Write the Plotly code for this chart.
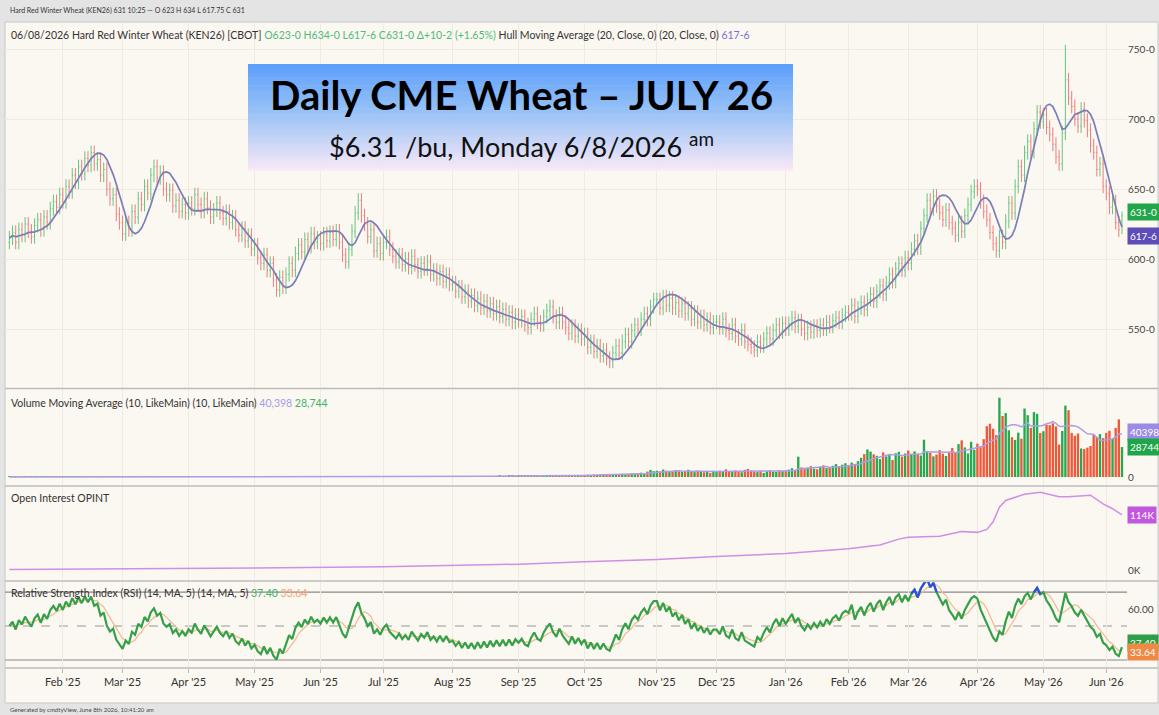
import numpy as np
import pandas as pd
import plotly.graph_objects as go
from plotly.subplots import make_subplots

# ---- data ----
holidays = ["2025-01-20", "2025-02-17", "2025-04-18", "2025-05-26", "2025-06-19", "2025-07-04",
            "2025-09-01", "2025-11-27", "2025-12-25", "2026-01-01", "2026-01-19", "2026-02-16",
            "2026-04-03", "2026-05-25"]

closes = [
    615, 619, 612, 621, 617, 625, 620, 616, 624, 628, 621, 630, 626, 636, 641, 637, 646,  # Jan 25
    641, 652, 648, 660, 655, 666, 661, 672, 667, 676, 668, 671, 660, 664, 650, 643, 646, 632, 626,  # Feb
    618, 626, 621, 634, 630, 643, 639, 652, 647, 660, 666, 658, 662, 650, 646, 649, 638, 642, 634, 639, 633,  # Mar
    640, 636, 646, 639, 634, 643, 637, 630, 635, 640, 633, 629, 634, 626, 630, 621, 617, 622, 613, 617, 607,  # Apr
    610, 601, 597, 603, 592, 597, 585, 578, 587, 580, 589, 597, 592, 604, 610, 605, 614, 609, 618, 612, 615,  # May
    611, 618, 613, 619, 614, 620, 612, 603, 598, 607, 620, 633, 642, 631, 625, 616, 621, 606, 611, 604,  # Jun
    612, 616, 607, 602, 598, 603, 596, 600, 594, 602, 596, 591, 597, 593, 598, 589, 592, 586, 591, 584, 589, 582,  # Jul
    583, 577, 580, 573, 577, 570, 574, 567, 572, 565, 570, 563, 568, 561, 566, 559, 564, 557, 562, 555, 560,  # Aug
    556, 559, 553, 551, 557, 561, 555, 553, 559, 563, 566, 559, 555, 561, 555, 551, 547, 552, 545, 549, 543,  # Sep
    546, 537, 541, 534, 538, 531, 535, 529, 527, 533, 538, 533, 541, 546, 541, 549, 553, 550, 557, 561, 557, 566, 571,  # Oct
    571, 565, 573, 567, 572, 565, 569, 563, 568, 561, 565, 557, 562, 555, 559, 553, 557, 551, 555,  # Nov
    555, 551, 557, 549, 547, 553, 545, 543, 549, 541, 539, 537, 535, 541, 538, 543, 547, 543, 549, 553, 548, 554,  # Dec
    550, 554, 558, 552, 556, 550, 547, 551, 548, 552, 549, 553, 550, 555, 552, 556, 558, 555, 560, 562,  # Jan 26
    561, 567, 559, 565, 569, 564, 571, 575, 570, 577, 581, 575, 583, 589, 584, 593, 597, 592, 601,  # Feb
    597, 607, 613, 608, 622, 631, 642, 636, 645, 638, 633, 628, 635, 626, 622, 617, 626, 620, 631, 639, 648, 652,  # Mar
    650, 641, 634, 628, 619, 611, 606, 616, 612, 627, 640, 633, 652, 666, 660, 676, 684, 677, 693, 705, 698,  # Apr
    703, 694, 689, 682, 673, 668, 690, 728, 715, 709, 700, 695, 707, 699, 692, 681, 676, 664, 668, 652,  # May
    647, 637, 641, 626, 620.75, 631,  # Jun 26
]

volume = [
    40, 60, 30, 50, 80, 40, 60, 90, 50, 70, 40, 60, 80, 50, 90, 60, 70,
    60, 80, 50, 90, 70, 100, 60, 80, 110, 70, 90, 60, 120, 80, 100, 70, 90, 110, 80,
    90, 120, 80, 140, 100, 130, 90, 150, 110, 100, 160, 120, 90, 140, 170, 110, 130, 150, 100, 180, 120,
    150, 120, 180, 140, 200, 160, 130, 190, 220, 150, 170, 210, 140, 230, 180, 160, 250, 190, 210, 170, 240,
    220, 260, 190, 280, 240, 210, 300, 260, 230, 320, 270, 250, 340, 290, 260, 310, 280, 350, 300, 270, 330,
    320, 380, 300, 410, 350, 330, 440, 390, 360, 520, 610, 480, 420, 390, 450, 400, 430, 380, 460, 420,
    450, 500, 430, 540, 480, 460, 570, 520, 490, 600, 550, 510, 620, 580, 540, 650, 600, 560, 680, 620, 590, 700,
    700, 760, 680, 820, 740, 710, 880, 790, 750, 920, 840, 800, 960, 880, 850, 1010, 930, 890, 1080, 980, 940,
    1100, 1200, 1050, 1300, 1180, 1150, 1400, 1250, 1200, 1500, 1350, 1300, 1600, 1450, 1380, 1700, 1550, 1480, 1800, 1650, 1600,
    1900, 2100, 1800, 2300, 2000, 2200, 2600, 2400, 2100, 2800, 2500, 2300, 3000, 2700, 2900, 3400, 3100, 3600, 4200, 3800, 5200, 6800, 5600,
    6000, 5400, 7200, 6100, 5200, 4800, 6500, 5600, 4900, 5800, 6900, 5300, 4700, 6200, 5500, 4600, 5100, 3800, 5900,
    5200, 6100, 4800, 7400, 5600, 5000, 6300, 5400, 4600, 6900, 7800, 6200, 5300, 4700, 6000, 3900, 5500, 6400, 5100, 4800, 6600, 5800,
    6200, 7100, 8400, 6800, 19500, 9200, 7600, 8900, 10400, 8100, 7400, 9800, 11200, 8600, 9300, 10800, 12400, 9700, 11800, 13200,
    11500, 13800, 12600, 15200, 18400, 22000, 26500, 24400, 21800, 20400, 17200, 23600, 19800, 21200, 16400, 22800, 24200, 19600, 22600,
    25400, 21800, 24600, 22400, 20600, 35800, 24800, 23200, 19800, 21600, 25800, 22400, 20200, 24200, 27800, 23400, 31600, 35200, 28400, 22600, 33800, 26200,
    32000, 28600, 36400, 48800, 51200, 46400, 40200, 76200, 58600, 61400, 44800, 38200, 35600, 42600, 36800, 65800, 59400, 47200, 62400, 60800, 42200,
    44000, 50200, 49800, 51600, 48600, 31200, 44200, 68600, 64200, 42400, 39600, 41800, 27400, 26800, 28200, 29800, 40400, 38600, 41200, 37400,
    42400, 44400, 36800, 47200, 55400, 28744,
]

oi_dates = ["2025-01-08", "2025-03-03", "2025-05-01", "2025-07-01", "2025-09-02", "2025-10-01",
            "2025-11-03", "2025-12-01", "2026-01-02", "2026-02-02", "2026-02-17", "2026-02-25",
            "2026-03-02", "2026-03-16", "2026-03-25", "2026-04-01", "2026-04-07", "2026-04-09",
            "2026-04-13", "2026-04-15", "2026-04-20", "2026-04-23", "2026-04-30", "2026-05-08",
            "2026-05-13", "2026-05-22", "2026-05-29", "2026-06-03", "2026-06-08"]
oi_values = [1, 2, 4, 7, 12, 17, 22, 28, 34, 44, 52, 64, 68, 70, 80, 78, 84, 100,
             130, 144, 150, 157, 161, 152, 152, 155, 137, 127, 114]  # thousands

first_open = 612
high_override = {"2026-05-12": 753.0, "2026-06-08": 634.0}
low_override = {"2026-04-10": 601.0, "2026-06-08": 617.75}
open_override = {"2026-06-08": 623.0}
wick = 5

month_ticks = ["Feb '25", "Mar '25", "Apr '25", "May '25", "Jun '25", "Jul '25", "Aug '25", "Sep '25",
               "Oct '25", "Nov '25", "Dec '25", "Jan '26", "Feb '26", "Mar '26", "Apr '26", "May '26", "Jun '26"]

# ---- build series ----
dates = pd.bdate_range("2025-01-08", "2026-06-08")
dates = dates[~dates.isin(pd.to_datetime(holidays))]
x = dates.strftime("%Y-%m-%d").tolist()
assert len(x) == len(closes) == len(volume), (len(x), len(closes), len(volume))

c = np.array(closes, float)
o = np.concatenate([[first_open], c[:-1]])
hi = np.maximum(o, c) + wick
lo = np.minimum(o, c) - wick
for i, d in enumerate(x):
    if d in open_override:
        o[i] = open_override[d]
    if d in high_override:
        hi[i] = high_override[d]
    if d in low_override:
        lo[i] = low_override[d]


def wma(a, n):
    out = np.empty(len(a))
    for i in range(len(a)):
        w = a[max(0, i - n + 1):i + 1]
        k = np.arange(1, len(w) + 1)
        out[i] = (w * k).sum() / k.sum()
    return out


hull = wma(2 * wma(c, 10) - wma(c, 20), 4)

# RSI 14 (Wilder)
ch = np.diff(c, prepend=c[0])
au = ad = np.abs(np.diff(c[:15])).mean() / 2
rsi = []
for v in ch:
    au = (au * 13 + max(v, 0)) / 14
    ad = (ad * 13 + max(-v, 0)) / 14
    rsi.append(100 - 100 / (1 + au / ad))
rsi = np.array(rsi)
rsi_ma = pd.Series(rsi).rolling(5, min_periods=1).mean().values

vol = np.array(volume, float)
vol_ma = pd.Series(vol).rolling(10, min_periods=1).mean().values
vol_col = ["#27a850" if c[i] >= o[i] else "#f0583a" for i in range(len(c))]


def ext(mask):
    m = mask.copy()
    m[1:] |= mask[:-1]
    m[:-1] |= mask[1:]
    return m


rsi_hi = np.where(ext(rsi >= 70), rsi, np.nan)
rsi_lo = np.where(ext(rsi <= 30), rsi, np.nan)

# ---- figure ----
W, H = 1159, 715
PL, PR, PT, PB = 5, 1127, 22, 668


def px(xp):
    return (xp - PL) / (PR - PL)


def py(yp):
    return (PB - yp) / (PB - PT)


fig = make_subplots(rows=4, cols=1, shared_xaxes=True, vertical_spacing=0.0)

fig.add_trace(go.Ohlc(x=x, open=o, high=hi, low=lo, close=c,
                      increasing_line_color="#62c77f", decreasing_line_color="#ee7d7d",
                      line_width=1, tickwidth=0.3, hoverinfo="skip", showlegend=False), row=1, col=1)
fig.add_trace(go.Scatter(x=x, y=hull, mode="lines", line=dict(color="#7b7db6", width=1.7),
                         hoverinfo="skip", showlegend=False), row=1, col=1)

fig.add_trace(go.Bar(x=x, y=vol, marker_color=vol_col, marker_line_width=0,
                     hoverinfo="skip", showlegend=False), row=2, col=1)
fig.add_trace(go.Scatter(x=x, y=vol_ma, mode="lines", line=dict(color="#a9a0e6", width=1.5),
                         hoverinfo="skip", showlegend=False), row=2, col=1)

fig.add_trace(go.Scatter(x=oi_dates, y=oi_values, mode="lines", line=dict(color="#cf8fe3", width=1.5),
                         hoverinfo="skip", showlegend=False), row=3, col=1)

fig.add_trace(go.Scatter(x=x, y=rsi_ma, mode="lines", line=dict(color="#f2b892", width=1.2),
                         hoverinfo="skip", showlegend=False), row=4, col=1)
fig.add_trace(go.Scatter(x=x, y=rsi, mode="lines", line=dict(color="#34a048", width=2.2),
                         hoverinfo="skip", showlegend=False), row=4, col=1)
fig.add_trace(go.Scatter(x=x, y=rsi_hi, mode="lines", line=dict(color="#2f4fe0", width=2.2),
                         hoverinfo="skip", showlegend=False), row=4, col=1)
fig.add_trace(go.Scatter(x=x, y=rsi_lo, mode="lines", line=dict(color="#e0303a", width=2.2),
                         hoverinfo="skip", showlegend=False), row=4, col=1)

# month ticks: first trading day of each month from Feb 2025
firsts = pd.Series(dates).groupby(dates.to_period("M")).min().dt.strftime("%Y-%m-%d").tolist()[1:]
grid = "#f0eae2"
fig.update_xaxes(type="category", range=[-1.4, len(x) + 0.6], tickvals=firsts, ticktext=month_ticks,
                 showgrid=True, gridcolor=grid, gridwidth=1, zeroline=False, rangeslider_visible=False,
                 showline=False, ticks="", showticklabels=False)
fig.update_xaxes(row=4, col=1, showticklabels=True, ticks="outside", ticklen=4, tickcolor="#bbbbbb",
                 tickfont=dict(family="Lato", size=11, color="#333333"))

yax = dict(side="right", showgrid=True, gridcolor=grid, zeroline=False, showline=False,
           tickfont=dict(family="Lato", size=10, color="#444444"), ticks="")
fig.update_layout(
    yaxis=dict(yax, domain=[py(388), 1.0], range=[507.9, 769.3], tickvals=[550, 600, 650, 700, 750],
               ticktext=["550-0", "600-0", "650-0", "700-0", "750-0"]),
    yaxis2=dict(yax, domain=[py(485), py(390)], range=[-7690, 83600], tickvals=[0], ticktext=["0"], showgrid=False),
    yaxis3=dict(yax, domain=[py(580), py(487)], range=[-20.7, 172], tickvals=[0], ticktext=["0K"], showgrid=False),
    yaxis4=dict(yax, domain=[0, py(582)], range=[25.3, 75.9], tickvals=[60], ticktext=["60.00"], showgrid=False),
)

shapes = []
# page background / frame
shapes.append(dict(type="rect", xref="paper", yref="paper", x0=px(5), x1=px(1158), y0=py(703), y1=py(22),
                   fillcolor="#fbf7f1", line=dict(color="#c8c8c8", width=1), layer="below"))
# panel separators
for yy in [388.5, 486, 581, 668]:
    shapes.append(dict(type="line", xref="paper", yref="paper", x0=px(5), x1=px(1158), y0=py(yy), y1=py(yy),
                       line=dict(color="#bdbdbd", width=1.5)))
# RSI bands
for lvl, dash in [(70, "solid"), (30, "solid"), (50, "dash")]:
    shapes.append(dict(type="line", xref="x4 domain", yref="y4", x0=0, x1=1, y0=lvl, y1=lvl,
                       line=dict(color="#8a8a8a" if dash == "solid" else "#9a9a9a", width=1.2, dash=dash),
                       layer="below"))
# title box gradient
bx0, bx1, by0, by1 = 248, 793, 64, 170
stops = [(0.0, (92, 158, 252)), (0.45, (152, 194, 246)), (1.0, (248, 232, 247))]
n = 60
for k in range(n):
    t = (k + 0.5) / n
    for (t0, c0), (t1, c1) in zip(stops[:-1], stops[1:]):
        if t0 <= t <= t1:
            f = (t - t0) / (t1 - t0)
            col = tuple(int(round(a + (b - a) * f)) for a, b in zip(c0, c1))
    ya = by0 + (by1 - by0) * k / n
    yb = by0 + (by1 - by0) * (k + 1) / n + 0.6
    shapes.append(dict(type="rect", xref="paper", yref="paper", x0=px(bx0), x1=px(bx1), y0=py(yb), y1=py(ya),
                       fillcolor="rgb(%d,%d,%d)" % col, line=dict(width=0)))
fig.update_layout(shapes=shapes)

ann = []
base = dict(xref="paper", yref="paper", showarrow=False, xanchor="left", yanchor="middle",
            font=dict(family="Lato", size=10.5, color="#333333"))
ann.append(dict(base, x=px(8), y=py(10.5), font=dict(family="Lato", size=7, color="#333333"),
                text="Hard Red Winter Wheat (KEN26) 631 10:25 — O 623 H 634 L 617.75 C 631"))
ann.append(dict(base, x=px(8), y=py(709), font=dict(family="Lato", size=6, color="#444444"),
                text="Generated by cmdtyView, June 8th 2026, 10:41:20 am"))
ann.append(dict(base, x=px(9), y=py(35),
                text="06/08/2026 Hard Red Winter Wheat (KEN26) [CBOT] "
                     "<span style='color:#4cbc78'>O623-0 H634-0 L617-6 C631-0 Δ+10-2 (+1.65%)</span> "
                     "Hull Moving Average (20, Close, 0) (20, Close, 0) "
                     "<span style='color:#7d6fd4'>617-6</span>"))
ann.append(dict(base, x=px(9), y=py(403),
                text="Volume Moving Average (10, LikeMain) (10, LikeMain) "
                     "<span style='color:#a79be6'>40,398</span> <span style='color:#3cb56a'>28,744</span>"))
ann.append(dict(base, x=px(9), y=py(498), text="Open Interest OPINT"))
ann.append(dict(base, x=px(9), y=py(593),
                text="Relative Strength Index (RSI) (14, MA, 5) (14, MA, 5) "
                     "<span style='color:#3cb56a'>37.40</span> <span style='color:#f4a36c'>33.64</span>"))
# title
ann.append(dict(xref="paper", yref="paper", showarrow=False, x=px(521), y=py(95), xanchor="center",
                yanchor="middle", text="<b>Daily CME Wheat – JULY 26</b>",
                font=dict(family="Lato", size=40, color="#000000")))
ann.append(dict(xref="paper", yref="paper", showarrow=False, x=px(521), y=py(145), xanchor="center",
                yanchor="middle", text="$6.31 /bu, Monday 6/8/2026 <sup>am</sup>",
                font=dict(family="Lato", size=27, color="#111111")))


def tag(text, yref, yv, bg, shift=0):
    return dict(xref="paper", yref=yref, x=1.0, y=yv, xanchor="left", yanchor="middle", showarrow=False,
                text=text, bgcolor=bg, borderpad=2, yshift=shift,
                font=dict(family="Lato", size=10, color="#ffffff"))


ann.append(tag("631-0", "y", 631, "#23a64b", 4))
ann.append(tag("617-6", "y", 617.75, "#5e4db8", -2))
ann.append(tag("40398", "y2", 40398, "#9b8ae6", 3))
ann.append(tag("28744", "y2", 28744, "#1fa64a", 0))
ann.append(tag("114K", "y3", 114, "#c257df"))
ann.append(tag("37.40", "y4", 37.40, "#2f9e48", 4))
ann.append(tag("33.64", "y4", 33.64, "#ee8a45", 2))
fig.update_layout(annotations=ann)

fig.update_layout(
    width=W, height=H,
    margin=dict(l=PL, r=W - PR, t=PT, b=H - PB),
    paper_bgcolor="#e4e4e4", plot_bgcolor="rgba(0,0,0,0)",
    bargap=0.25, showlegend=False,
    font=dict(family="Lato"),
)

fig.write_html("out.html", config={"displayModeBar": False},
               post_script="document.body.style.margin='0';document.body.style.overflow='hidden';")
